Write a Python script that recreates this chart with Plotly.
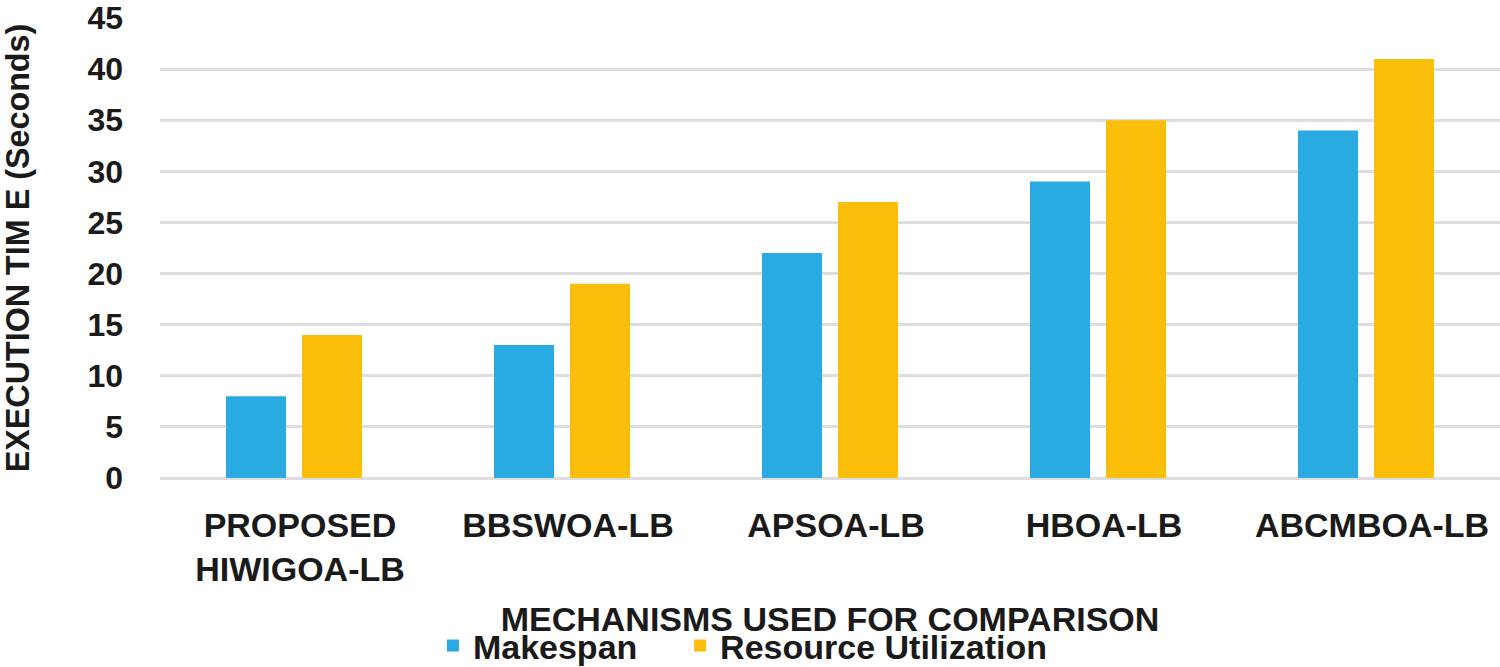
import plotly.graph_objects as go

categories = ["PROPOSED<br>HIWIGOA-LB", "BBSWOA-LB", "APSOA-LB", "HBOA-LB", "ABCMBOA-LB"]
makespan = [8, 13, 22, 29, 34]
resource_util = [14, 19, 27, 35, 41]
y_ticks = [0, 5, 10, 15, 20, 25, 30, 35, 40, 45]

FONT = "Liberation Sans, Arial, sans-serif"
TXT = "#1a1a1a"

fig = go.Figure()
fig.add_trace(go.Bar(name="Makespan\u00a0\u00a0\u00a0\u00a0", x=categories, y=makespan,
                     marker=dict(color="#29abe2", line=dict(width=0))))
fig.add_trace(go.Bar(name="Resource Utilization", x=categories, y=resource_util,
                     marker=dict(color="#fbbf0b", line=dict(width=0))))

fig.update_layout(
    width=1500, height=667,
    margin=dict(l=160, r=0, t=18, b=189, autoexpand=False),
    paper_bgcolor="white", plot_bgcolor="white",
    barmode="group", bargap=0.433, bargroupgap=0.21,
    font=dict(family=FONT, color=TXT, size=30, weight="bold"),
    showlegend=True,
    legend=dict(orientation="h", x=0.435, xanchor="center", y=-0.302, yanchor="top",
                xref="paper", font=dict(family=FONT, size=34, color=TXT, weight="bold"),
                itemwidth=30, traceorder="normal", tracegroupgap=0,
                bgcolor="rgba(0,0,0,0)"),
    xaxis=dict(
        title=dict(text="MECHANISMS USED FOR COMPARISON",
                   font=dict(family=FONT, size=34, color=TXT, weight="bold"), standoff=19),
        tickfont=dict(family=FONT, size=34, color=TXT, weight="bold"),
        ticklabelstandoff=24,
        ticklabelshift=6,
        automargin=False,
        showgrid=False, showline=False, zeroline=False,
    ),
    yaxis=dict(
        title=dict(text="EXECUTION TIM E (Seconds)",
                   font=dict(family=FONT, size=32.3, color=TXT, weight="bold"), standoff=56),
        range=[0, 45], tickvals=y_ticks,
        tickfont=dict(family=FONT, size=32, color=TXT, weight="bold"),
        ticklabelstandoff=36,
        ticklabeloverflow="allow",
        automargin=False,
        showgrid=True, gridcolor="#dedede", gridwidth=3,
        zeroline=True, zerolinecolor="#dedede", zerolinewidth=3,
        showline=False,
    ),
)

fig.write_html("out.html", config={"displayModeBar": False},
               post_script="document.body.style.margin='0';")
